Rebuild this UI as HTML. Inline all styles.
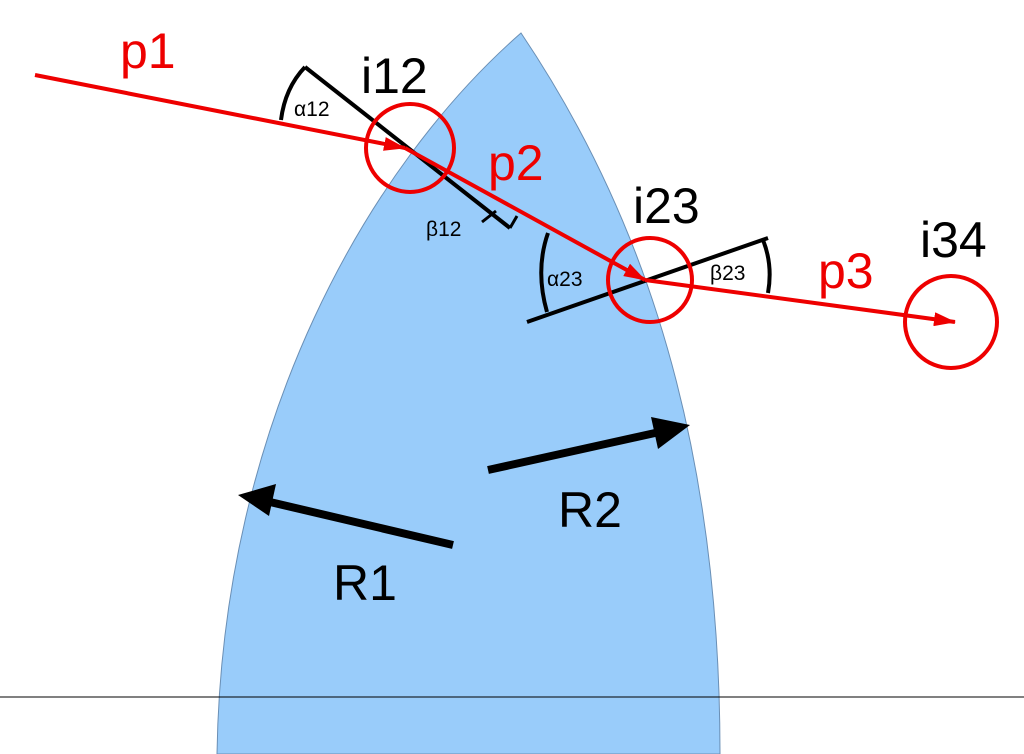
<!DOCTYPE html>
<html><head><style>body{margin:0;background:#fff}svg{display:block}</style></head><body>
<svg width="1024" height="754" viewBox="0 0 1024 754" xmlns="http://www.w3.org/2000/svg" font-family="Liberation Sans, sans-serif">
<defs>
<marker id="ra" markerWidth="22" markerHeight="14" refX="21" refY="7" orient="auto" markerUnits="userSpaceOnUse" viewBox="0 0 22 14"><path d="M0,0 L22,7 L0,14z" fill="#e00"/></marker>
</defs>
<path d="M521,33 C370,165 222,420 217,754 L720,754 C720,400 620,180 521,33Z" fill="#99ccfa" stroke="#6a8fb5" stroke-width="1"/>
<line x1="0" y1="697" x2="1024" y2="697" stroke="#000" stroke-width="1"/>
<line x1="305" y1="67" x2="510" y2="228" stroke="#000" stroke-width="4"/>
<line x1="482" y1="222" x2="496" y2="211" stroke="#000" stroke-width="3"/>
<line x1="510" y1="228" x2="517" y2="216" stroke="#000" stroke-width="3"/>
<line x1="527" y1="322" x2="768" y2="238" stroke="#000" stroke-width="4"/>
<path d="M281,120 Q285,88 305,67" fill="none" stroke="#000" stroke-width="4"/>
<path d="M548,233 Q535,270 547,312" fill="none" stroke="#000" stroke-width="4"/>
<path d="M763,240 Q773,265 768,293" fill="none" stroke="#000" stroke-width="4"/>
<line x1="35" y1="75" x2="405" y2="148" stroke="#e00" stroke-width="4" marker-end="url(#ra)"/>
<line x1="405" y1="148" x2="645" y2="280" stroke="#e00" stroke-width="4" marker-end="url(#ra)"/>
<line x1="645" y1="280" x2="955" y2="322" stroke="#e00" stroke-width="4" marker-end="url(#ra)"/>
<circle cx="410" cy="148" r="44" fill="none" stroke="#e00" stroke-width="4"/>
<circle cx="650" cy="280" r="42" fill="none" stroke="#e00" stroke-width="4"/>
<circle cx="951" cy="322" r="46" fill="none" stroke="#e00" stroke-width="4"/>
<line x1="453" y1="545" x2="270" y2="502" stroke="#000" stroke-width="8"/>
<path d="M238,495 L276,484 L269,516Z" fill="#000"/>
<line x1="488" y1="470" x2="655" y2="433" stroke="#000" stroke-width="8"/>
<path d="M690,425 L651,417 L658,449Z" fill="#000"/>
<g fill="#e00" font-size="50">
<text x="120" y="68">p1</text>
<text x="488" y="180">p2</text>
<text x="818" y="288">p3</text>
</g>
<g fill="#000" font-size="50">
<text x="361" y="93">i12</text>
<text x="633" y="223">i23</text>
<text x="920" y="257">i34</text>
<text x="333" y="600">R1</text>
<text x="558" y="527">R2</text>
</g>
<g fill="#000" font-size="21">
<text x="294" y="116">α12</text>
<text x="426" y="236">β12</text>
<text x="547" y="286">α23</text>
<text x="710" y="280">β23</text>
</g>
</svg>
</body></html>
